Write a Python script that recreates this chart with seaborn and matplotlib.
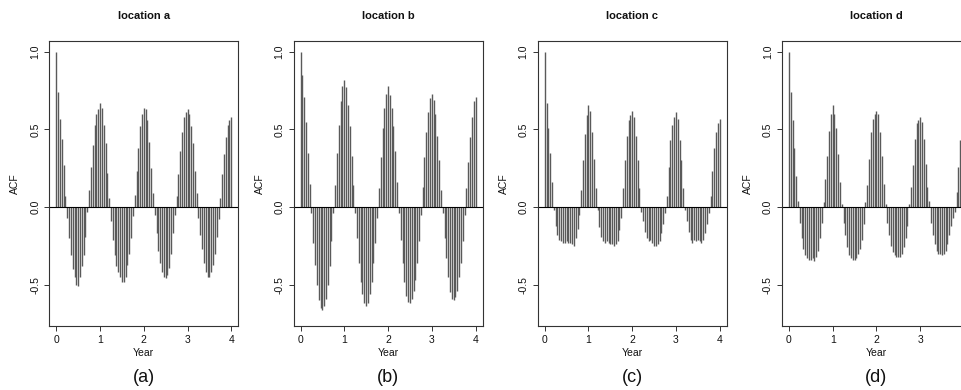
import matplotlib.pyplot as plt
import numpy as np
import pandas as pd
import seaborn as sns

LAGS_PER_YEAR = 24

acf_a = [
    1.00, 0.74, 0.57, 0.44, 0.27, 0.07, -0.07, -0.20, -0.31, -0.40, -0.45, -0.50,
    -0.51, -0.45, -0.38, -0.31, -0.19, -0.03, 0.11, 0.26, 0.40, 0.53, 0.60, 0.63,
    0.67, 0.64, 0.53, 0.41, 0.22, 0.06, -0.09, -0.21, -0.31, -0.38, -0.42, -0.45,
    -0.48, -0.48, -0.45, -0.37, -0.30, -0.20, -0.06, 0.08, 0.23, 0.38, 0.52, 0.60,
    0.64, 0.63, 0.56, 0.42, 0.25, 0.09, -0.05, -0.17, -0.28, -0.36, -0.42, -0.45,
    -0.46, -0.44, -0.39, -0.30, -0.17, -0.05, 0.07, 0.21, 0.36, 0.48, 0.58, 0.61,
    0.63, 0.60, 0.52, 0.41, 0.23, 0.09, -0.07, -0.18, -0.27, -0.36, -0.42, -0.45,
    -0.45, -0.42, -0.37, -0.30, -0.19, -0.08, 0.06, 0.21, 0.34, 0.45, 0.53, 0.56,
    0.58,
]
acf_b = [
    1.00, 0.85, 0.71, 0.55, 0.35, 0.15, -0.04, -0.23, -0.37, -0.50, -0.60, -0.65,
    -0.66, -0.64, -0.59, -0.50, -0.38, -0.22, -0.04, 0.14, 0.35, 0.53, 0.68, 0.78,
    0.82, 0.77, 0.66, 0.52, 0.33, 0.14, -0.04, -0.20, -0.36, -0.48, -0.56, -0.62,
    -0.64, -0.62, -0.56, -0.48, -0.36, -0.23, -0.07, 0.12, 0.32, 0.51, 0.64, 0.73,
    0.78, 0.72, 0.64, 0.52, 0.36, 0.16, -0.04, -0.21, -0.36, -0.48, -0.57, -0.61,
    -0.62, -0.59, -0.54, -0.47, -0.36, -0.22, -0.05, 0.13, 0.32, 0.48, 0.61, 0.70,
    0.73, 0.69, 0.60, 0.46, 0.30, 0.11, -0.04, -0.20, -0.33, -0.45, -0.55, -0.59,
    -0.60, -0.58, -0.54, -0.45, -0.36, -0.22, -0.05, 0.12, 0.29, 0.45, 0.58, 0.68,
    0.71,
]
acf_c = [
    1.00, 0.67, 0.51, 0.35, 0.16, -0.02, -0.12, -0.18, -0.21, -0.22, -0.23, -0.23,
    -0.22, -0.23, -0.23, -0.24, -0.25, -0.20, -0.14, -0.05, 0.11, 0.30, 0.47, 0.59,
    0.66, 0.62, 0.48, 0.31, 0.12, -0.02, -0.13, -0.19, -0.22, -0.23, -0.22, -0.23,
    -0.24, -0.24, -0.25, -0.24, -0.22, -0.15, -0.07, 0.12, 0.30, 0.46, 0.56, 0.59,
    0.62, 0.58, 0.46, 0.30, 0.12, -0.03, -0.09, -0.16, -0.20, -0.22, -0.21, -0.23,
    -0.25, -0.25, -0.24, -0.22, -0.17, -0.11, -0.04, 0.07, 0.26, 0.43, 0.53, 0.58,
    0.61, 0.57, 0.43, 0.30, 0.12, -0.02, -0.09, -0.16, -0.21, -0.23, -0.21, -0.22,
    -0.21, -0.22, -0.23, -0.21, -0.17, -0.11, -0.04, 0.07, 0.23, 0.38, 0.48, 0.54,
    0.57,
]
acf_d = [
    1.00, 0.74, 0.56, 0.38, 0.20, 0.04, -0.10, -0.20, -0.27, -0.31, -0.33, -0.34,
    -0.34, -0.33, -0.35, -0.32, -0.28, -0.20, -0.10, 0.03, 0.18, 0.33, 0.49, 0.60,
    0.66, 0.60, 0.51, 0.34, 0.16, 0.02, -0.10, -0.18, -0.26, -0.31, -0.33, -0.34,
    -0.34, -0.33, -0.30, -0.27, -0.21, -0.11, 0.03, 0.14, 0.31, 0.48, 0.57, 0.60,
    0.62, 0.60, 0.48, 0.33, 0.15, 0.02, -0.10, -0.18, -0.25, -0.29, -0.31, -0.32,
    -0.32, -0.32, -0.30, -0.26, -0.20, -0.12, 0.02, 0.13, 0.27, 0.44, 0.54, 0.56,
    0.58, 0.55, 0.44, 0.28, 0.13, 0.04, -0.10, -0.18, -0.24, -0.28, -0.30, -0.30,
    -0.31, -0.30, -0.28, -0.24, -0.18, -0.12, -0.07, -0.03, 0.10, 0.26, 0.43, 0.52,
    0.56,
]
locations = ["location a", "location b", "location c", "location d"]
panel_tags = ["(a)", "(b)", "(c)", "(d)"]
x_ticks = [0, 1, 2, 3, 4]
y_ticks = [-0.5, 0.0, 0.5, 1.0]
y_tick_labels = ["-0.5", "0.0", "0.5", "1.0"]

FIG_W, FIG_H, DPI = 961, 390, 100
AX_LEFTS = [49.3, 293.5, 537.7, 781.9]
AX_TOP, AX_BOTTOM, AX_WIDTH = 41.0, 325.7, 189.0
BAR_COLOR = "#5a5a5a"
FRAME_COLOR = "#333333"

sns.set_theme(style="ticks")
plt.rcParams["font.family"] = ["Liberation Sans", "DejaVu Sans"]
plt.rcParams["axes.unicode_minus"] = False

frames = []
for name, values in zip(locations, [acf_a, acf_b, acf_c, acf_d]):
    lag = np.arange(len(values))
    frames.append(pd.DataFrame({"location": name, "year": lag / LAGS_PER_YEAR, "acf": values}))
data = pd.concat(frames, ignore_index=True)

fig = plt.figure(figsize=(FIG_W / DPI, FIG_H / DPI), dpi=DPI)
fig.patch.set_facecolor("white")

ax_h = AX_BOTTOM - AX_TOP
for left, name, tag in zip(AX_LEFTS, locations, panel_tags):
    ax = fig.add_axes([left / FIG_W, (FIG_H - AX_BOTTOM) / FIG_H, AX_WIDTH / FIG_W, ax_h / FIG_H])
    sub = data[data["location"] == name]
    ax.vlines(sub["year"], 0, sub["acf"], color=BAR_COLOR, linewidth=1.0)
    ax.axhline(0, color="black", linewidth=0.8)
    ax.set_xlim(-0.16, 4.16)
    ax.set_ylim(-0.764, 1.069)
    ax.set_facecolor("white")

    # the last panel runs past the right edge of the figure, as in the source
    visible_ticks = [t for t in x_ticks if left + (t + 0.16) / 4.32 * AX_WIDTH < FIG_W - 4]
    ax.set_xticks(visible_ticks)
    ax.set_yticks(y_ticks)
    ax.set_yticklabels(y_tick_labels, rotation=90, va="center")
    ax.tick_params(axis="both", length=3.5, width=0.7, color=FRAME_COLOR,
                   labelsize=7.5, labelcolor="#111111", pad=3, direction="out")
    for spine in ax.spines.values():
        spine.set_visible(True)
        spine.set_color(FRAME_COLOR)
        spine.set_linewidth(0.8)

    ax.set_xlabel("Year", fontsize=7.5, color="#111111")
    ax.xaxis.set_label_coords(0.5, -22 / ax_h)
    ax.set_ylabel("ACF", fontsize=7.5, color="#111111")
    ax.yaxis.set_label_coords(-29 / AX_WIDTH, 0.5)

    ax.text(0.5, 1 + 25 / ax_h, name, transform=ax.transAxes, ha="center",
            va="center", fontsize=8, fontweight="bold", color="#111111")
    ax.text(0.5, -(378 - AX_BOTTOM) / ax_h, tag, transform=ax.transAxes,
            ha="center", va="center", fontsize=13, color="#111111")

fig.savefig("out.png", dpi=DPI)
